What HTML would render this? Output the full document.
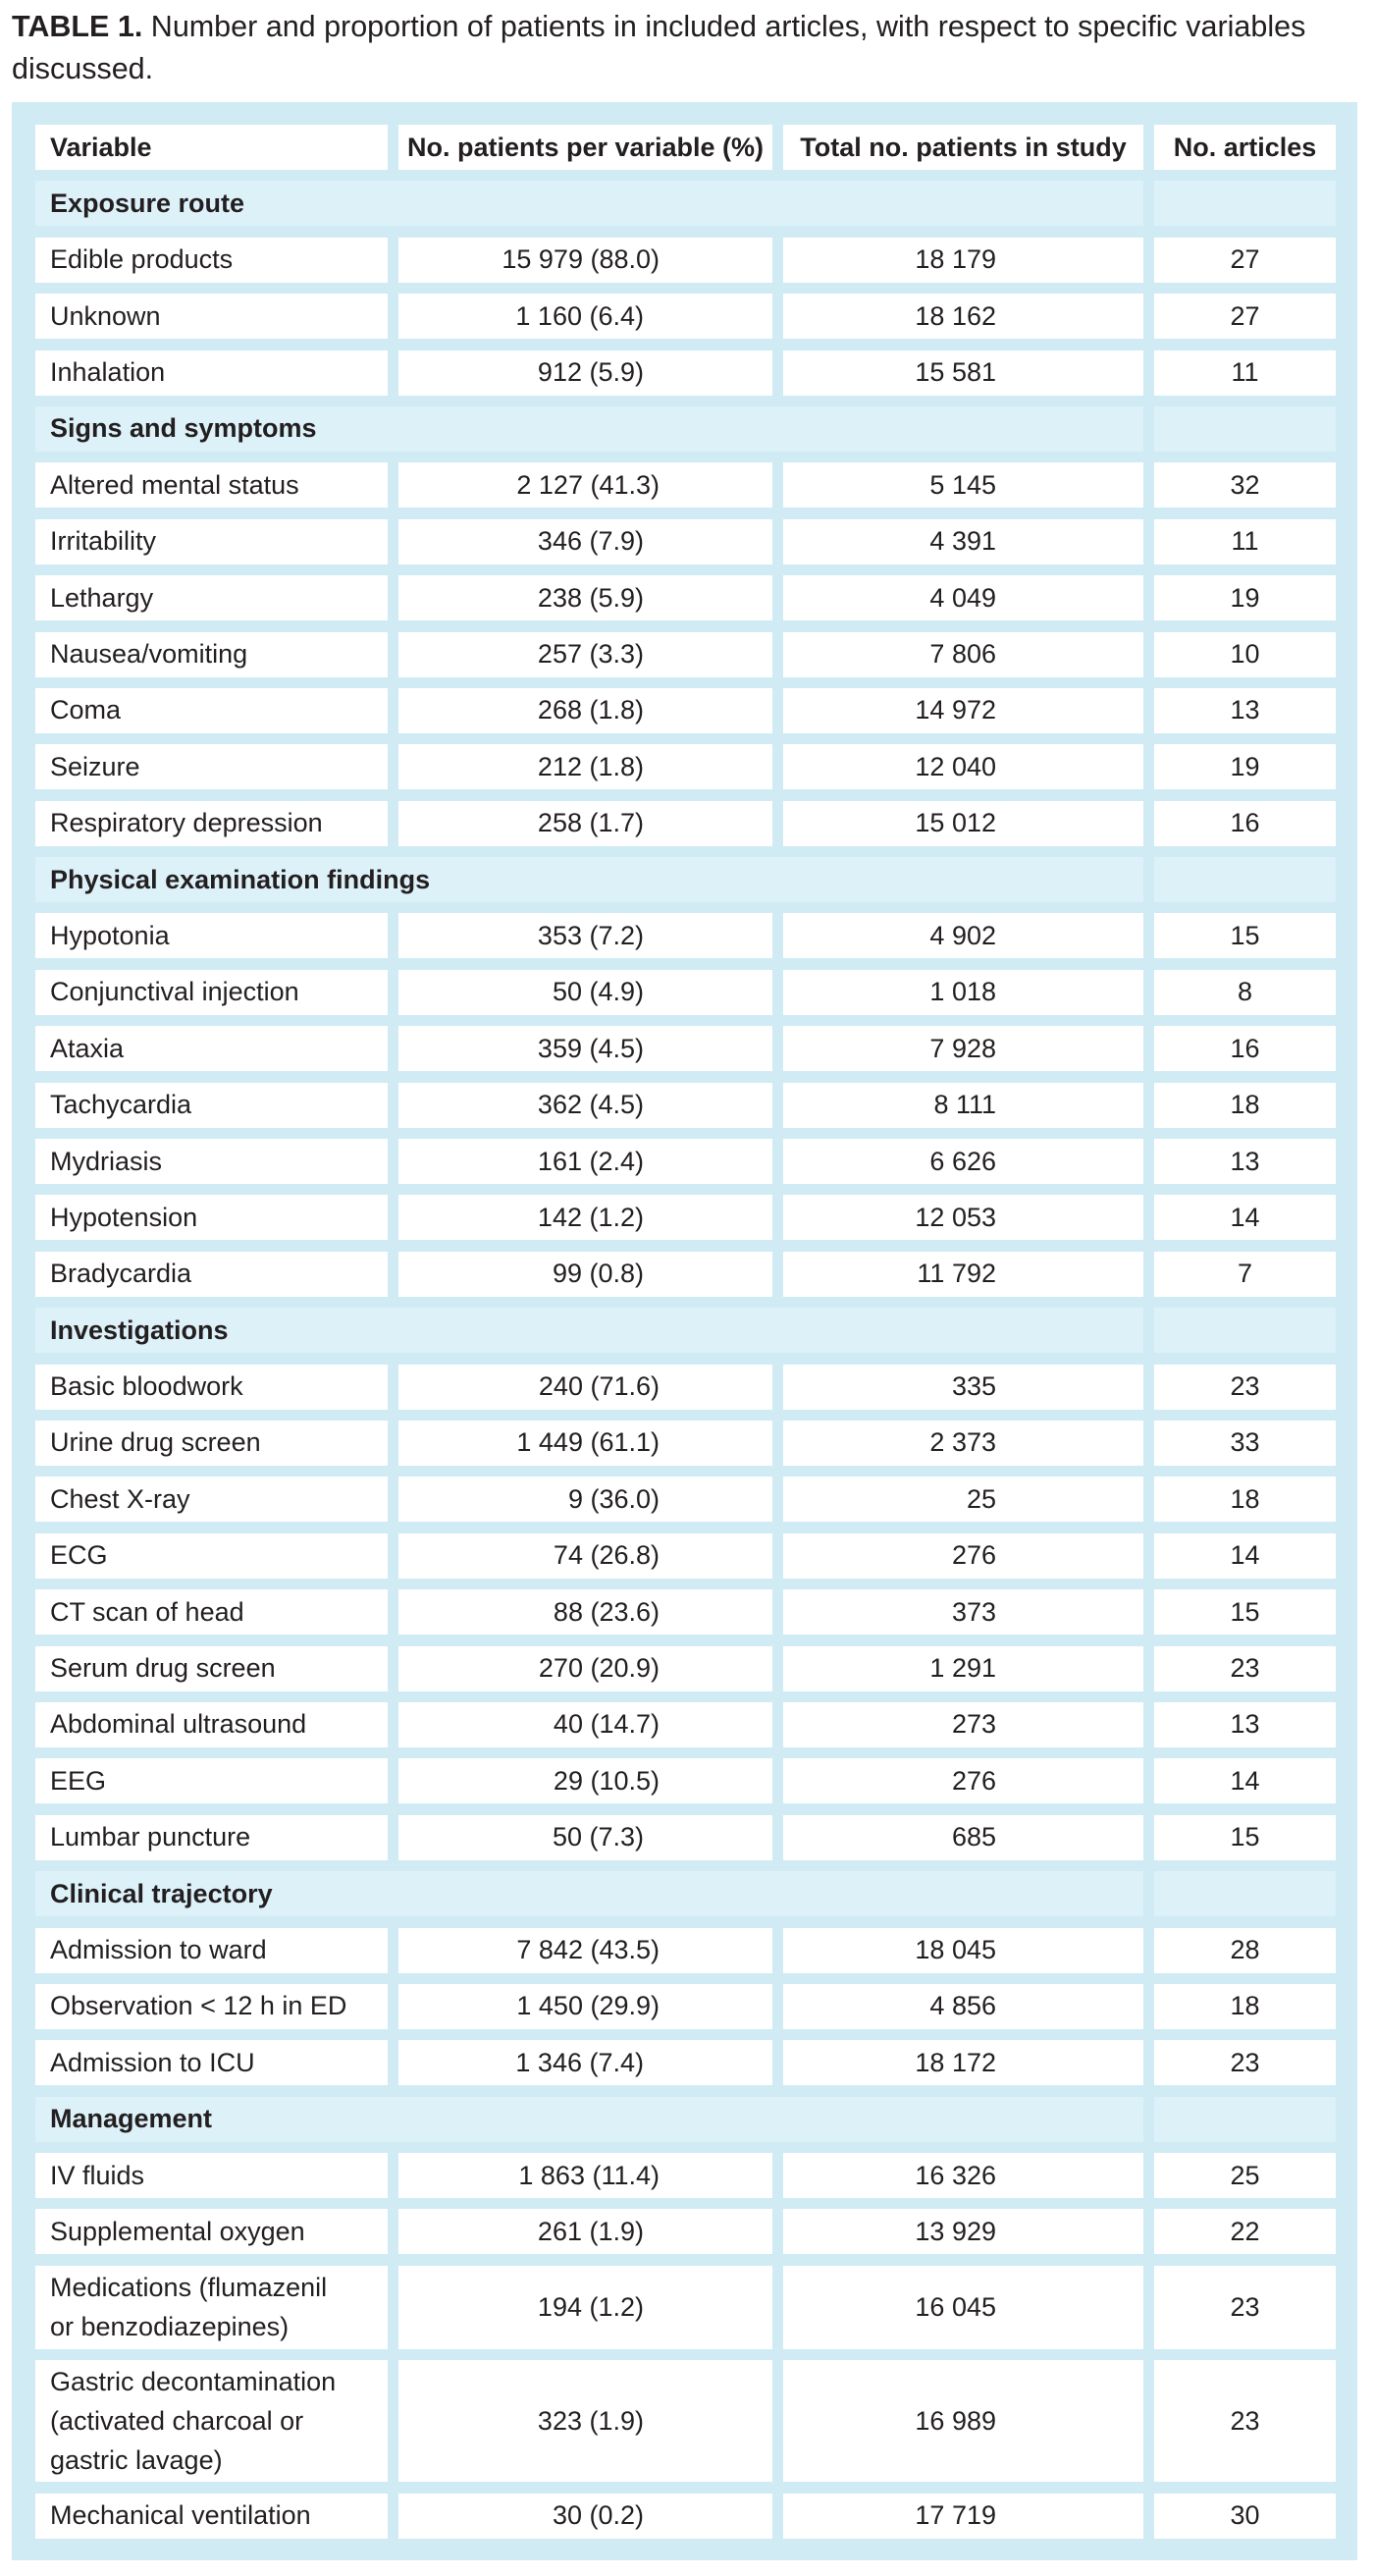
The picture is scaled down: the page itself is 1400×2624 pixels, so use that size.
<!DOCTYPE html>
<html><head><meta charset="utf-8"><style>
*{margin:0;padding:0;box-sizing:border-box}
body{width:1400px;height:2624px;background:#fff;font-family:"Liberation Sans Narrow","Liberation Sans",sans-serif;color:#231f20;position:relative;overflow:hidden}
.title{position:absolute;left:12px;top:6px;width:1375px;font-size:30.5px;line-height:43px}
.title b{font-weight:bold}
.panel{position:absolute;left:12px;top:104px;width:1371px;height:2504px;background:#d0ebf4}
.rows{position:absolute;left:24px;top:23px;display:flex;flex-direction:column;gap:11.4px}
.r{display:grid;grid-template-columns:359px 381px 367px 185px;column-gap:11px;height:46px}
.r>div{background:#fff;display:flex;align-items:center;font-size:27px}
.c1{padding-left:15px}
.c2{justify-content:flex-end;padding-right:131px}
.c2.w{padding-right:115px}
.c3{justify-content:flex-end;padding-right:150px}
.c4{justify-content:center}
.h>div{font-weight:bold}
.h .c2,.h .c3{justify-content:center;padding-right:0}
.s>div{background:#ddf1f9;font-weight:bold}
.s .sp{grid-column:1/4}
.l2{height:85px}.l3{height:124px}
.l2 .c1,.l3 .c1{line-height:40px}
</style></head><body>
<div class="title"><b>TABLE 1.</b> Number and proportion of patients in included articles, with respect to specific variables discussed.</div>
<div class="panel"><div class="rows">
<div class="r h"><div class="c1">Variable</div><div class="c2">No. patients per variable (%)</div><div class="c3">Total no. patients in study</div><div class="c4">No. articles</div></div>
<div class="r s"><div class="c1 sp">Exposure route</div><div></div></div>
<div class="r"><div class="c1">Edible products</div><div class="c2 w">15 979 (88.0)</div><div class="c3">18 179</div><div class="c4">27</div></div>
<div class="r"><div class="c1">Unknown</div><div class="c2">1 160 (6.4)</div><div class="c3">18 162</div><div class="c4">27</div></div>
<div class="r"><div class="c1">Inhalation</div><div class="c2">912 (5.9)</div><div class="c3">15 581</div><div class="c4">11</div></div>
<div class="r s"><div class="c1 sp">Signs and symptoms</div><div></div></div>
<div class="r"><div class="c1">Altered mental status</div><div class="c2 w">2 127 (41.3)</div><div class="c3">5 145</div><div class="c4">32</div></div>
<div class="r"><div class="c1">Irritability</div><div class="c2">346 (7.9)</div><div class="c3">4 391</div><div class="c4">11</div></div>
<div class="r"><div class="c1">Lethargy</div><div class="c2">238 (5.9)</div><div class="c3">4 049</div><div class="c4">19</div></div>
<div class="r"><div class="c1">Nausea/vomiting</div><div class="c2">257 (3.3)</div><div class="c3">7 806</div><div class="c4">10</div></div>
<div class="r"><div class="c1">Coma</div><div class="c2">268 (1.8)</div><div class="c3">14 972</div><div class="c4">13</div></div>
<div class="r"><div class="c1">Seizure</div><div class="c2">212 (1.8)</div><div class="c3">12 040</div><div class="c4">19</div></div>
<div class="r"><div class="c1">Respiratory depression</div><div class="c2">258 (1.7)</div><div class="c3">15 012</div><div class="c4">16</div></div>
<div class="r s"><div class="c1 sp">Physical examination findings</div><div></div></div>
<div class="r"><div class="c1">Hypotonia</div><div class="c2">353 (7.2)</div><div class="c3">4 902</div><div class="c4">15</div></div>
<div class="r"><div class="c1">Conjunctival injection</div><div class="c2">50 (4.9)</div><div class="c3">1 018</div><div class="c4">8</div></div>
<div class="r"><div class="c1">Ataxia</div><div class="c2">359 (4.5)</div><div class="c3">7 928</div><div class="c4">16</div></div>
<div class="r"><div class="c1">Tachycardia</div><div class="c2">362 (4.5)</div><div class="c3">8 111</div><div class="c4">18</div></div>
<div class="r"><div class="c1">Mydriasis</div><div class="c2">161 (2.4)</div><div class="c3">6 626</div><div class="c4">13</div></div>
<div class="r"><div class="c1">Hypotension</div><div class="c2">142 (1.2)</div><div class="c3">12 053</div><div class="c4">14</div></div>
<div class="r"><div class="c1">Bradycardia</div><div class="c2">99 (0.8)</div><div class="c3">11 792</div><div class="c4">7</div></div>
<div class="r s"><div class="c1 sp">Investigations</div><div></div></div>
<div class="r"><div class="c1">Basic bloodwork</div><div class="c2 w">240 (71.6)</div><div class="c3">335</div><div class="c4">23</div></div>
<div class="r"><div class="c1">Urine drug screen</div><div class="c2 w">1 449 (61.1)</div><div class="c3">2 373</div><div class="c4">33</div></div>
<div class="r"><div class="c1">Chest X-ray</div><div class="c2 w">9 (36.0)</div><div class="c3">25</div><div class="c4">18</div></div>
<div class="r"><div class="c1">ECG</div><div class="c2 w">74 (26.8)</div><div class="c3">276</div><div class="c4">14</div></div>
<div class="r"><div class="c1">CT scan of head</div><div class="c2 w">88 (23.6)</div><div class="c3">373</div><div class="c4">15</div></div>
<div class="r"><div class="c1">Serum drug screen</div><div class="c2 w">270 (20.9)</div><div class="c3">1 291</div><div class="c4">23</div></div>
<div class="r"><div class="c1">Abdominal ultrasound</div><div class="c2 w">40 (14.7)</div><div class="c3">273</div><div class="c4">13</div></div>
<div class="r"><div class="c1">EEG</div><div class="c2 w">29 (10.5)</div><div class="c3">276</div><div class="c4">14</div></div>
<div class="r"><div class="c1">Lumbar puncture</div><div class="c2">50 (7.3)</div><div class="c3">685</div><div class="c4">15</div></div>
<div class="r s"><div class="c1 sp">Clinical trajectory</div><div></div></div>
<div class="r"><div class="c1">Admission to ward</div><div class="c2 w">7 842 (43.5)</div><div class="c3">18 045</div><div class="c4">28</div></div>
<div class="r"><div class="c1">Observation &lt; 12 h in ED</div><div class="c2 w">1 450 (29.9)</div><div class="c3">4 856</div><div class="c4">18</div></div>
<div class="r"><div class="c1">Admission to ICU</div><div class="c2">1 346 (7.4)</div><div class="c3">18 172</div><div class="c4">23</div></div>
<div class="r s"><div class="c1 sp">Management</div><div></div></div>
<div class="r"><div class="c1">IV fluids</div><div class="c2 w">1 863 (11.4)</div><div class="c3">16 326</div><div class="c4">25</div></div>
<div class="r"><div class="c1">Supplemental oxygen</div><div class="c2">261 (1.9)</div><div class="c3">13 929</div><div class="c4">22</div></div>
<div class="r l2"><div class="c1">Medications (flumazenil<br>or benzodiazepines)</div><div class="c2">194 (1.2)</div><div class="c3">16 045</div><div class="c4">23</div></div>
<div class="r l3"><div class="c1">Gastric decontamination<br>(activated charcoal or<br>gastric lavage)</div><div class="c2">323 (1.9)</div><div class="c3">16 989</div><div class="c4">23</div></div>
<div class="r"><div class="c1">Mechanical ventilation</div><div class="c2">30 (0.2)</div><div class="c3">17 719</div><div class="c4">30</div></div>
</div></div>
</body></html>
